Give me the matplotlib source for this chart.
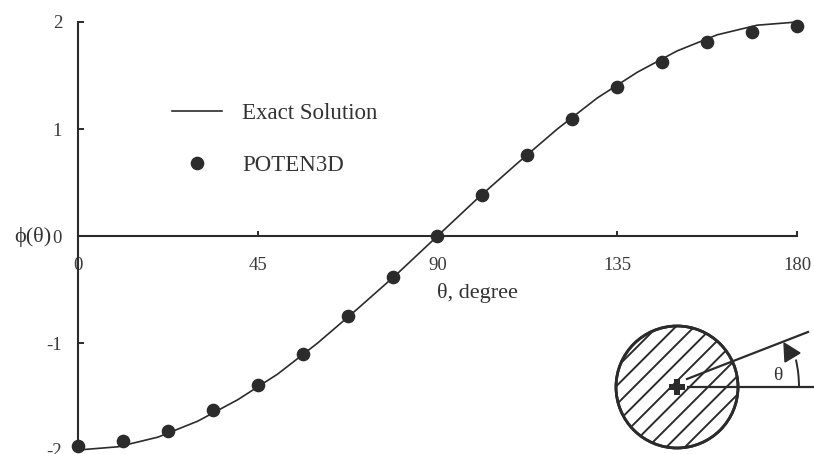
import numpy as np
import matplotlib
matplotlib.use("Agg")
import matplotlib.pyplot as plt
from matplotlib.patches import Circle, Arc, Polygon

plt.rcParams['font.family'] = ['Liberation Serif', 'DejaVu Serif']

# exact solution, read every 10 degrees
theta_exact = [0, 10, 20, 30, 40, 50, 60, 70, 80, 90,
               100, 110, 120, 130, 140, 150, 160, 170, 180]
phi_exact = [-2.00, -1.97, -1.88, -1.73, -1.53, -1.29, -1.00, -0.68, -0.35, 0.00,
             0.35, 0.68, 1.00, 1.29, 1.53, 1.73, 1.88, 1.97, 2.00]

# POTEN3D results, 16 intervals over 180 degrees
theta_num = [0, 11.25, 22.5, 33.75, 45, 56.25, 67.5, 78.75, 90,
             101.25, 112.5, 123.75, 135, 146.25, 157.5, 168.75, 180]
phi_num = [-1.96, -1.92, -1.82, -1.63, -1.39, -1.10, -0.75, -0.38, 0.00,
           0.38, 0.76, 1.09, 1.39, 1.63, 1.81, 1.91, 1.96]

xticks = [0, 45, 90, 135, 180]
yticks = [-2, -1, 0, 1, 2]

ink = '#2b2b2b'
W, H = 814, 454

fig = plt.figure(figsize=(W / 100, H / 100), dpi=100)
ax = fig.add_axes([78 / W, 1 - 450 / H, (797 - 78) / W, (450 - 22) / H])

ax.plot(theta_exact, phi_exact, color=ink, lw=1.2, label='Exact Solution',
        clip_on=False, zorder=3)
ax.plot(theta_num, phi_num, 'o', color=ink, ms=8.8, label='POTEN3D',
        clip_on=False, zorder=4)

ax.set_xlim(0, 180)
ax.set_ylim(-2, 2)
ax.spines['left'].set_position(('data', 0))
ax.spines['bottom'].set_position(('data', 0))
ax.spines['top'].set_visible(False)
ax.spines['right'].set_visible(False)
for s in ('left', 'bottom'):
    ax.spines[s].set_linewidth(1.5)
    ax.spines[s].set_color(ink)

ax.set_xticks(xticks)
ax.set_yticks(yticks)
ax.set_xticklabels([str(t) for t in xticks])
ax.set_yticklabels([str(t) for t in yticks])
ax.tick_params(axis='x', direction='in', length=3.8, width=1.4, color=ink,
               pad=15, labelsize=13.5, labelcolor='#3a3a3a')
ax.tick_params(axis='y', direction='in', length=4.3, width=1.4, color=ink,
               pad=11.5, labelsize=13.5, labelcolor='#3a3a3a')

ax.text(100, -0.53, 'θ, degree', ha='center', va='center',
        fontsize=16, color='#333333')
fig.text(51 / W, 1 - 237 / H, 'ϕ(θ)', ha='right', va='center',
         fontsize=16, color='#333333')

ax.legend(loc='upper left', bbox_to_anchor=(172 / W, 1 - 103 / H),
          bbox_transform=fig.transFigure, frameon=False, fontsize=16.5,
          handlelength=2.2, handletextpad=0.85, labelspacing=1.35,
          borderpad=0, borderaxespad=0, labelcolor='#333333')

# sketch of the cylinder and angle, drawn in pixel units
sk = fig.add_axes([0, 0, 1, 1])
sk.set_xlim(0, W)
sk.set_ylim(0, H)
sk.axis('off')
sk.patch.set_alpha(0)

cx, cy, r = 677, H - 387, 61
disk = Circle((cx, cy), r, facecolor='white', edgecolor=ink, lw=2, zorder=2)
sk.add_patch(disk)
# diagonal hatching, clipped to the disk
for c in np.arange(-4, 5) * 18.5 + 6:
    hl, = sk.plot([cx - r - 10, cx + r + 10], [cy - r - 10 + c, cy + r + 10 + c],
                  color=ink, lw=1.4, zorder=2.5)
    hl.set_clip_path(disk)
rim = Circle((cx, cy), r, facecolor='none', edgecolor=ink, lw=2, zorder=3)
sk.add_patch(rim)
sk.plot([cx], [cy], marker='P', ms=11, color=ink, mec=ink, mew=0, zorder=4)
sk.plot([688, 814], [cy, cy], color=ink, lw=1.6)
sk.plot([687, 808], [H - 379, H - 332], color=ink, lw=1.6)
sk.add_patch(Arc((cx, cy), 244, 244, theta1=0, theta2=13, color=ink, lw=1.4))
sk.add_patch(Polygon([(784, H - 343), (785, H - 362), (800, H - 353)],
                     closed=True, facecolor=ink, edgecolor=ink))
sk.text(778, H - 375, 'θ', ha='center', va='center', fontsize=14,
        color='#333333')

fig.savefig('out.png', dpi=100)
